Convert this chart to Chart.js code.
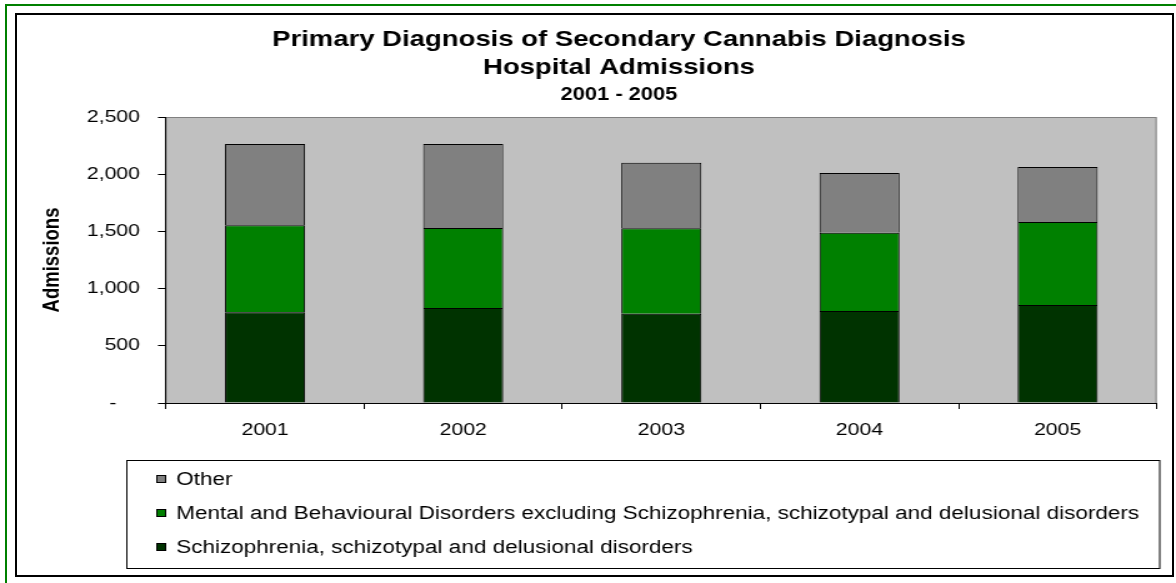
<!DOCTYPE html>
<html>
<head>
<meta charset="utf-8">
<script src="https://cdn.jsdelivr.net/npm/chart.js@4.4.1/dist/chart.umd.min.js"></script>
<style>
  body { margin: 0; background: #fff; overflow: hidden; width: 1176px; height: 583px; position: relative; }
  #green { position: absolute; left: 5px; top: 4px; width: 1190px; height: 600px; border: 2px solid #008000; }
  #frame { position: absolute; left: 15px; top: 13px; width: 1155px; height: 560px; border: 2px solid #000; }
  #wrap { position: absolute; left: 0; top: 0; width: 941px; height: 583px; transform: scaleX(1.2497); transform-origin: 0 0; }
</style>
</head>
<body>
<div id="green"></div>
<div id="frame"></div>
<div id="wrap"><canvas id="chart" width="941" height="583" style="width:941px;height:583px"></canvas></div>
<script>
const years = ['2001', '2002', '2003', '2004', '2005'];
const schizophrenia = [793, 830, 781, 804, 857];
const mentalBehavioural = [760, 700, 746, 685, 725];
const other = [711, 735, 573, 521, 481];
const yTicks = [0, 500, 1000, 1500, 2000, 2500];
const titleLines = ['Primary Diagnosis of Secondary Cannabis Diagnosis', 'Hospital Admissions'];
const subtitleText = '2001 - 2005';

const FONT = "'Liberation Sans', Arial, sans-serif";

// grey plot area like the Excel original
const plotBg = {
  id: 'plotBg',
  beforeDraw(chart) {
    const a = chart.chartArea, ctx = chart.ctx;
    ctx.save();
    ctx.fillStyle = '#c0c0c0';
    ctx.fillRect(a.left, a.top, a.right - a.left, a.bottom - a.top);
    ctx.strokeStyle = '#808080';
    ctx.lineWidth = 1;
    ctx.strokeRect(a.left, a.top + 0.5, a.right - a.left - 0.5, a.bottom - a.top);
    ctx.restore();
  }
};

// title block, centred a bit right of the canvas middle as in the original
const titleBlock = {
  id: 'titleBlock',
  afterDraw(chart) {
    const ctx = chart.ctx;
    const cx = 495.3;
    ctx.save();
    ctx.fillStyle = '#000';
    ctx.textAlign = 'center';
    ctx.textBaseline = 'middle';
    ctx.font = 'bold 22px ' + FONT;
    ctx.fillText(titleLines[0], cx, 40);
    ctx.fillText(titleLines[1], cx, 68);
    ctx.font = 'bold 17.5px ' + FONT;
    ctx.fillText(subtitleText, cx, 95);
    ctx.restore();
  }
};

// boxed legend, one item per row, top series first
const boxLegend = {
  id: 'boxLegend',
  afterDraw(chart) {
    const ctx = chart.ctx;
    ctx.save();
    ctx.strokeStyle = '#000';
    ctx.lineWidth = 1;
    ctx.strokeRect(101.5, 460.5, 826.5, 108);
    ctx.font = '18px ' + FONT;
    ctx.textBaseline = 'middle';
    ctx.textAlign = 'left';
    const ds = chart.data.datasets.slice().reverse();
    const rows = [479, 513, 547];
    ds.forEach((d, i) => {
      const y = rows[i];
      ctx.fillStyle = d.backgroundColor;
      ctx.fillRect(125.5, y - 3.5, 7, 7);
      ctx.strokeStyle = '#000';
      ctx.strokeRect(125.5, y - 3.5, 7, 7);
      ctx.fillStyle = '#000';
      ctx.fillText(d.label, 141, y + 1);
    });
    ctx.restore();
  }
};

const ctx = document.getElementById('chart').getContext('2d');
new Chart(ctx, {
  type: 'bar',
  data: {
    labels: years,
    datasets: [
      { label: 'Schizophrenia, schizotypal and delusional disorders', data: schizophrenia, backgroundColor: '#003300' },
      { label: 'Mental and Behavioural Disorders excluding Schizophrenia, schizotypal and delusional disorders', data: mentalBehavioural, backgroundColor: '#008000' },
      { label: 'Other', data: other, backgroundColor: '#808080' },
    ].map(d => Object.assign(d, { borderColor: '#000', borderWidth: 1, barPercentage: 0.404, categoryPercentage: 1 })),
  },
  options: {
    responsive: false,
    animation: false,
    devicePixelRatio: 1,
    layout: { padding: { top: 117, left: 10, right: 15.4, bottom: 140 } },
    plugins: {
      legend: { display: false },
      tooltip: { enabled: false },
      title: { display: false },
    },
    scales: {
      x: {
        stacked: true,
        grid: { display: true, drawOnChartArea: false, offset: true, color: '#000', tickLength: 6 },
        border: { display: true, color: '#000' },
        ticks: { color: '#000', font: { family: FONT, size: 17 }, padding: 11, maxRotation: 0 },
        afterFit(s) { s.height = 40; },
      },
      y: {
        stacked: true,
        min: 0,
        max: 2500,
        afterBuildTicks(s) { s.ticks = yTicks.map(v => ({ value: v })); },
        grid: { display: true, drawOnChartArea: false, color: '#000', tickLength: 6.4 },
        border: { display: true, color: '#000' },
        ticks: {
          color: '#000',
          font: { family: FONT, size: 17 },
          padding: 14.4,
          callback: v => v === 0 ? '-    ' : v.toLocaleString('en-US'),
        },
        title: {
          display: true,
          text: 'Admissions',
          color: '#000',
          font: { family: FONT, size: 18.5, weight: 'bold' },
          padding: { top: 21.3, bottom: 0 },
        },
        afterFit(s) { s.width = 122.8; },
      },
    },
  },
  plugins: [plotBg, titleBlock, boxLegend],
});
</script>
</body>
</html>
